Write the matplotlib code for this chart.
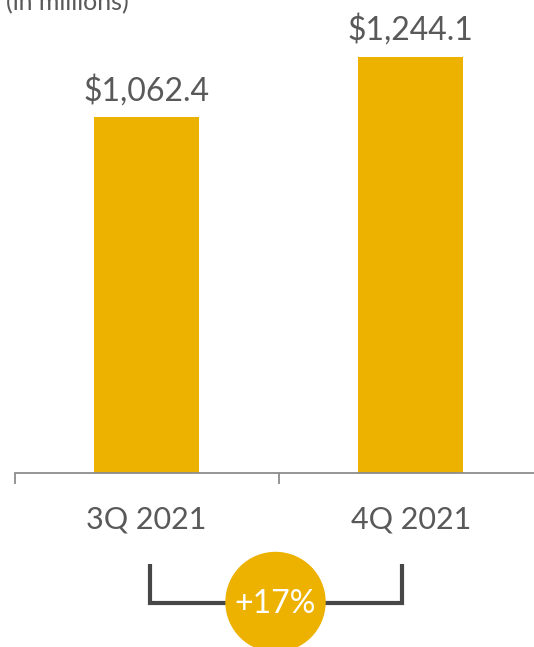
import matplotlib
matplotlib.use("Agg")
import matplotlib.pyplot as plt
from matplotlib.patches import Circle

# данные
categories = ["3Q 2021", "4Q 2021"]
values = [1062.4, 1244.1]
value_labels = ["$1,062.4", "$1,244.1"]
growth_label = "+17%"
unit_label = "(in millions)"

bar_color = "#EDB100"
text_color = "#595959"
axis_color = "#8C8C8C"
bracket_color = "#474747"

plt.rcParams["font.family"] = ["Lato", "DejaVu Sans"]

W, H = 534, 647
fig = plt.figure(figsize=(W / 100, H / 100), dpi=100)

# основная ось: 1 единица по x = 264 px, ноль по y на 472 px сверху
x0 = 146.6 - 0.5 * 264.2
ax = fig.add_axes([x0 / W, (H - 472.5) / H, 2 * 264.2 / W, 468 / H])
x = list(range(len(categories)))
ax.bar(x, values, width=105 / 264.2, color=bar_color)
ax.set_xlim(-0.5, 1.5)
ax.set_ylim(0, 1400)

for xi, v, lab in zip(x, values, value_labels):
    ax.annotate(lab, (xi, v), xytext=(0, 12), textcoords="offset points",
                ha="center", va="baseline", fontsize=23, color=text_color)

for s in ["top", "right", "left"]:
    ax.spines[s].set_visible(False)
ax.spines["bottom"].set_color(axis_color)
ax.spines["bottom"].set_linewidth(1.3)
ax.set_yticks([])
ax.set_xticks(x)
ax.set_xticklabels(categories, fontsize=22, color=text_color)
ax.tick_params(axis="x", which="major", length=0, pad=24)
ax.set_xticks([-0.5, 0.5, 1.5], minor=True)
ax.tick_params(axis="x", which="minor", length=8, width=1.3, color=axis_color)

fig.text(6 / W, 1 - 10 / H, unit_label, ha="left", va="baseline",
         fontsize=18, color=text_color)

# скобка и кружок с ростом, в пикселях
ov = fig.add_axes([0, 0, 1, 1], zorder=5)
ov.set_xlim(0, W)
ov.set_ylim(H, 0)
ov.axis("off")
ov.patch.set_alpha(0)
ov.plot([149.5, 149.5, 401.7, 401.7], [564, 603, 603, 564],
        color=bracket_color, lw=3, solid_joinstyle="miter", solid_capstyle="butt")
ov.add_patch(Circle((275.5, 602), 49.5, color=bar_color, zorder=6))
ov.text(275.5, 604, growth_label, ha="center", va="center", fontsize=23,
        color="white", zorder=7)

fig.savefig("out.png", dpi=100)
